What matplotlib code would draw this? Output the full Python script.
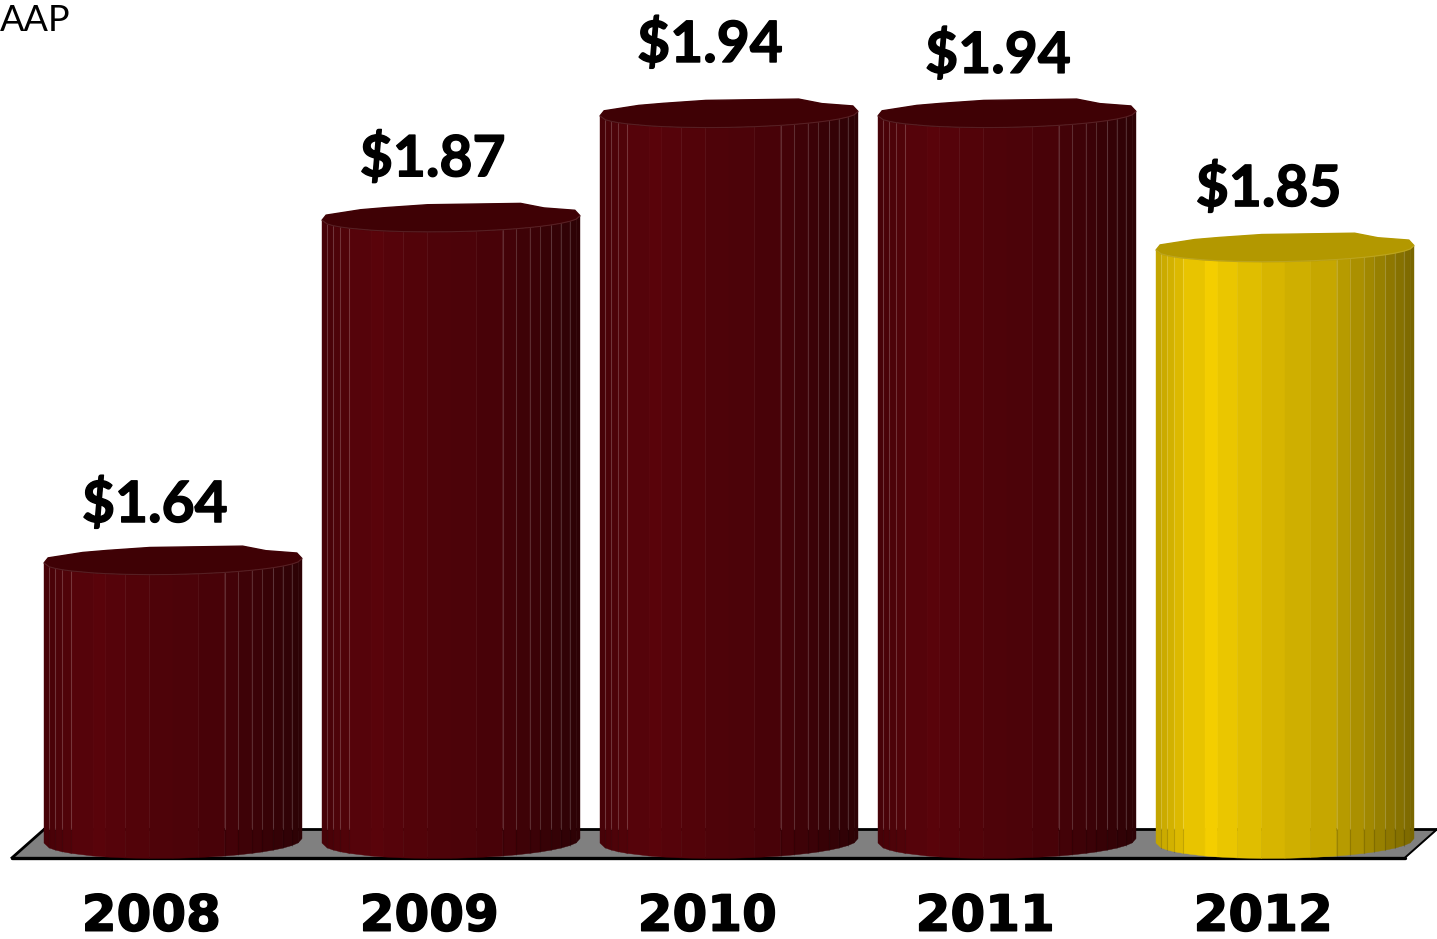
import numpy as np
import matplotlib
matplotlib.use("Agg")
import matplotlib.pyplot as plt
import matplotlib.patheffects as pe

# Earnings per share by year
years = ["2008", "2009", "2010", "2011", "2012"]
values = [1.64, 1.87, 1.94, 1.94, 1.85]
value_labels = ["$1.64", "$1.87", "$1.94", "$1.94", "$1.85"]

# Facet edges across a cylinder (0 = left side, 1 = right side) and strip brightness
facet_edges = [0, .02, .043, .07, .105, .19, .24, .315, .41, .5, .6, .70, .752, .806, .845, .888, .926, .961, .985, 1]
facet_shade = [.80, .83, .86, .90, .95, 1, .96, .92, .88, .85, .81, .75, .70, .66, .62, .58, .55, .52, .50]
back_edges = [0, .016, .15, .245, .41, .77, .86, .98, 1]
back_bumps = [0, .37, .72, .84, 1.0, .98, .62, .41, 0]
highlight_left = [1, 2, 3, 4]
highlight_right = [11, 12, 13, 14, 15, 16, 17]

red = np.array([0x59, 0x03, 0x0a]) / 255
gold = np.array([0xf4, 0xce, 0x00]) / 255
bar_colors = [red, red, red, red, gold]
top_colors = ["#3f0105", "#3f0105", "#3f0105", "#3f0105", "#b39800"]

half_width = 0.464
base_value = 1.4521
top_ry = 0.0092
base_ry = 0.0118
tilt = 0.0030
floor_value = 1.4612

fig = plt.figure(figsize=(14.37, 9.39), dpi=100)
ax = fig.add_axes([0, 0, 1, 1])
ax.set_xlim(-173 / 278, 1264 / 278)
ax.set_ylim(1.3877, 2.0178)
ax.axis("off")

# Floor the cylinders stand on
floor_x = [-0.579, 4.431, 4.546, -0.464]
floor_y = [1.4422, 1.4422, floor_value, floor_value]
ax.fill(floor_x, floor_y, color="#808080", zorder=1)
ax.plot(floor_x[:2], floor_y[:2], color="black", lw=2.4, zorder=2, solid_capstyle="round")
ax.plot(floor_x[1:3], floor_y[1:3], color="black", lw=1.4, zorder=2)
ax.plot(floor_x[2:], floor_y[2:], color="black", lw=2, zorder=2)
ax.plot([floor_x[3], floor_x[0]], [floor_y[3], floor_y[0]], color="black", lw=2, zorder=2)


def front_offset(f, ry):
    # drop of the near rim at fraction f, plus the slight tilt of the ellipse
    return -ry * np.sqrt(np.clip(1 - (2 * f - 1) ** 2, 0, 1)) + tilt * f


for i, val in enumerate(values):
    xs = [i + half_width * (2 * f - 1) for f in facet_edges]
    for k, shade in enumerate(facet_shade):
        f0, f1 = facet_edges[k], facet_edges[k + 1]
        px = [xs[k], xs[k + 1], xs[k + 1], xs[k]]
        py = [val + front_offset(f0, top_ry), val + front_offset(f1, top_ry),
              base_value + front_offset(f1, base_ry), base_value + front_offset(f0, base_ry)]
        ax.fill(px, py, color=bar_colors[i] * shade, lw=0.3, zorder=3)

    # pale seams between the outer facets, fading out at the floor line
    for k in highlight_left + highlight_right:
        f = facet_edges[k]
        ax.plot([xs[k], xs[k]], [val + front_offset(f, top_ry), floor_value],
                color="white", alpha=0.17, lw=0.8, zorder=4)
        ax.plot([xs[k], xs[k]], [floor_value, base_value + front_offset(f, base_ry)],
                color="black", alpha=0.15, lw=0.8, zorder=4)

    # top cap: near rim along the facets, far rim back across
    cap_x = list(xs)
    cap_y = [val + front_offset(f, top_ry) for f in facet_edges]
    for f, b in zip(reversed(back_edges), reversed(back_bumps)):
        cap_x.append(i + half_width * (2 * f - 1))
        cap_y.append(val + tilt * f + top_ry * b)
    ax.fill(cap_x, cap_y, color=top_colors[i], zorder=5)
    ax.plot(xs, cap_y[:len(xs)], color="white", alpha=0.12, lw=0.8, zorder=6)

# Value labels above each cylinder
label_dx = [-0.065, -0.065, -0.068, -0.032, -0.058]
label_dy = [0.0389, 0.0409, 0.0476, 0.0403, 0.0409]
heavier = [pe.withStroke(linewidth=1.0, foreground="black")]
for i, val in enumerate(values):
    ax.text(i + label_dx[i], val + label_dy[i], value_labels[i], family="Lato", weight="bold",
            fontsize=41, ha="center", va="center", color="black", zorder=7, path_effects=heavier)

# Year labels under the floor
for i, year in enumerate(years):
    ax.text(i - 0.078, 1.4026, year, family="DejaVu Sans", weight="bold",
            fontsize=36, ha="center", va="center", color="black", zorder=7, path_effects=heavier)

ax.text(-173 / 278 + 0.001, 2.0038, "AAP", family="Lato", fontsize=26,
        ha="left", va="center", color="black", zorder=7)

fig.savefig("out.png", dpi=100)
